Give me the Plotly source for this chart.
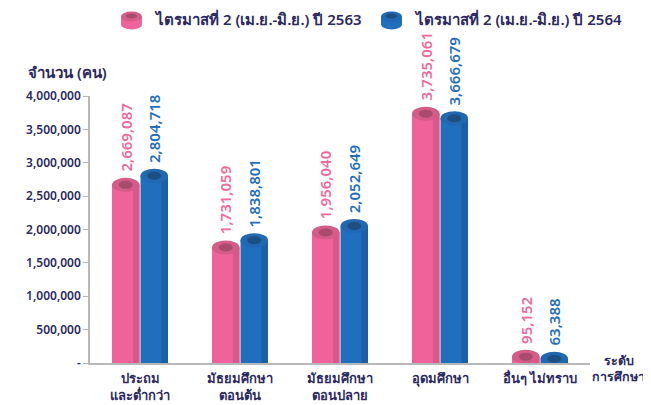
import plotly.graph_objects as go

# ---- data ----
categories = ["ประถม<br>และต่ำกว่า", "มัธยมศึกษา<br>ตอนต้น", "มัธยมศึกษา<br>ตอนปลาย",
              "อุดมศึกษา", "อื่นๆ ไม่ทราบ"]
q2_2563 = [2669087, 1731059, 1956040, 3735061, 95152]
q2_2564 = [2804718, 1838801, 2052649, 3666679, 63388]
series_names = ["ไตรมาสที่ 2 (เม.ย.-มิ.ย.) ปี 2563", "ไตรมาสที่ 2 (เม.ย.-มิ.ย.) ปี 2564"]
y_tickvals = [0, 500000, 1000000, 1500000, 2000000, 2500000, 3000000, 3500000, 4000000]
y_ticktext = ["-", "500,000", "1,000,000", "1,500,000", "2,000,000", "2,500,000",
              "3,000,000", "3,500,000", "4,000,000"]
y_title = "จำนวน (คน)"
x_title = "ระดับ<br>การศึกษา"

# ---- style ----
NAVY = "#2b2960"
FONT = "Noto Sans, Open Sans, sans-serif"
styles = [
    dict(body="#f0639a", side="#d9588a", ring="#d55c88", hole="#a84c6e", text="#ef6a9a"),
    dict(body="#1f6fbd", side="#1b60a6", ring="#2168b2", hole="#1d4f80", text="#1f6fbd"),
]
W = 0.275
offsets = [-0.28, 0.005]

xs = list(range(len(categories)))
fig = go.Figure()
shapes = []
annotations = []
for si, (vals, name) in enumerate(zip([q2_2563, q2_2564], series_names)):
    st = styles[si]
    fig.add_trace(go.Bar(
        x=xs, y=vals, name=name, width=W, offset=offsets[si],
        marker=dict(color=st["body"], line=dict(width=0)),
        showlegend=False,
    ))
    for i, v in enumerate(vals):
        left = xs[i] + offsets[si]
        right = left + W
        cx = left + W / 2
        # darker right side of cylinder
        shapes.append(dict(type="rect", xref="x", yref="y", x0=right - 0.065, x1=right,
                           y0=0, y1=v, fillcolor=st["side"], line=dict(width=0), layer="above"))
        # top ring
        shapes.append(dict(type="circle", xref="x", yref="y", x0=left, x1=right,
                           ysizemode="pixel", yanchor=v, y0=-7, y1=7,
                           fillcolor=st["ring"], line=dict(width=0), layer="above"))
        # inner hole
        shapes.append(dict(type="circle", xref="x", yref="y", x0=cx - 0.07, x1=cx + 0.07,
                           ysizemode="pixel", yanchor=v, y0=-4, y1=4,
                           fillcolor=st["hole"], line=dict(width=0), layer="above"))
        # value label
        annotations.append(dict(text=f"{v:,}", xref="x", yref="y", x=cx, y=v,
                                xanchor="center", yanchor="bottom", yshift=11,
                                textangle=-90, showarrow=False,
                                font=dict(size=15, color=st["text"], family=FONT, weight=600)))

# custom legend (cylinder icons + text)
legend_x = [0.0, 0.52]
for si, name in enumerate(series_names):
    st = styles[si]
    x0 = legend_x[si]
    shapes.append(dict(type="rect", xref="paper", yref="paper", xsizemode="pixel", ysizemode="pixel",
                       xanchor=x0, yanchor=1.29, x0=31, x1=52, y0=-6, y1=2,
                       fillcolor=st["body"], line=dict(width=0)))
    shapes.append(dict(type="circle", xref="paper", yref="paper", xsizemode="pixel", ysizemode="pixel",
                       xanchor=x0, yanchor=1.29, x0=31, x1=52, y0=-11, y1=-1,
                       fillcolor=st["body"], line=dict(width=0)))
    shapes.append(dict(type="circle", xref="paper", yref="paper", xsizemode="pixel", ysizemode="pixel",
                       xanchor=x0, yanchor=1.29, x0=31, x1=52, y0=-3, y1=7,
                       fillcolor=st["ring"], line=dict(width=0)))
    shapes.append(dict(type="circle", xref="paper", yref="paper", xsizemode="pixel", ysizemode="pixel",
                       xanchor=x0, yanchor=1.29, x0=36, x1=47, y0=0, y1=5,
                       fillcolor=st["hole"], line=dict(width=0)))
    annotations.append(dict(text=name, xref="paper", yref="paper", x=x0 + 0.124, y=1.29,
                            xanchor="left", yanchor="middle", showarrow=False,
                            font=dict(size=15, color=NAVY, family=FONT, weight=600)))

annotations.append(dict(text=y_title, xref="paper", yref="paper", x=-0.128, y=1.09,
                        xanchor="left", yanchor="middle", showarrow=False,
                        font=dict(size=15, color=NAVY, family=FONT, weight=600)))
annotations.append(dict(text=x_title, xref="paper", yref="paper", x=1.056, y=-0.02,
                        xanchor="center", yanchor="middle", showarrow=False,
                        font=dict(size=12.5, color=NAVY, family=FONT, weight=600)))

# page body has an 8px margin, so the figure is sized to fit inside the window
fig.update_layout(
    width=643, height=397,
    margin=dict(l=82, r=61, t=88, b=42, autoexpand=False),
    paper_bgcolor="white", plot_bgcolor="white",
    shapes=shapes, annotations=annotations,
    showlegend=False,
    font=dict(family=FONT, color=NAVY),
)
fig.update_xaxes(range=[-0.5, len(categories) - 0.5], tickvals=xs, ticktext=categories,
                 showline=True, linecolor="#b8b8b8", linewidth=1.5, showgrid=False,
                 ticks="", zeroline=False, automargin=False, ticklabelstandoff=3,
                 tickfont=dict(size=13, color=NAVY, family=FONT, weight=600))
fig.update_yaxes(range=[0, 4000000], tickvals=y_tickvals, ticktext=y_ticktext,
                 showline=True, linecolor="#b8b8b8", linewidth=1.5, showgrid=False,
                 ticks="outside", ticklen=5, tickcolor="#b8b8b8", zeroline=False,
                 automargin=False,
                 tickfont=dict(size=12, color=NAVY, family=FONT, weight=600))

fig.write_html("out.html")
